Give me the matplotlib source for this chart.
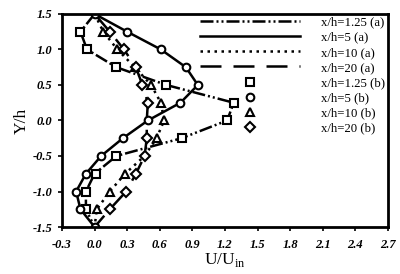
import matplotlib
matplotlib.use('Agg')
from matplotlib import pyplot as plt

# numerical profiles (a)
y_line = [1.5, 1.25, 1.0, 0.75, 0.5, 0.25, 0.0, -0.25, -0.5, -0.75, -1.0, -1.25, -1.5]
a_125 = [0.0, -0.13, -0.07, 0.2, 0.66, 1.28, 1.22, 0.8, 0.2, 0.0, -0.08, -0.08, 0.0]
a_5 = [0.0, 0.3, 0.61, 0.84, 0.95, 0.79, 0.49, 0.26, 0.06, -0.08, -0.17, -0.13, 0.0]
a_10 = [0.0, 0.08, 0.21, 0.37, 0.52, 0.61, 0.64, 0.57, 0.46, 0.28, 0.14, 0.02, 0.0]
a_20 = [0.0, 0.14, 0.27, 0.38, 0.44, 0.49, 0.48, 0.48, 0.46, 0.38, 0.29, 0.14, 0.0]

# experimental points (b)
sq_y = [1.25, 1.0, 0.75, 0.5, 0.25, 0.0, -0.25, -0.5, -0.75, -1.0, -1.25]
sq_x = [-0.13, -0.07, 0.2, 0.66, 1.28, 1.22, 0.8, 0.2, 0.01, -0.08, -0.08]
ci_y = [1.5, 1.25, 1.0, 0.75, 0.5, 0.25, 0.0, -0.25, -0.5, -0.75, -1.0, -1.25, -1.5]
ci_x = [0.0, 0.3, 0.61, 0.84, 0.95, 0.79, 0.49, 0.26, 0.06, -0.08, -0.17, -0.13, 0.0]
tr_y = [1.25, 1.0, 0.75, 0.5, 0.25, 0.0, -0.25, -0.75, -1.0, -1.25]
tr_x = [0.08, 0.21, 0.37, 0.52, 0.61, 0.64, 0.57, 0.28, 0.14, 0.02]
di_y = [1.25, 1.0, 0.75, 0.5, 0.25, -0.25, -0.5, -0.75, -1.0, -1.25]
di_x = [0.14, 0.27, 0.38, 0.44, 0.49, 0.48, 0.46, 0.38, 0.29, 0.14]

x_ticks = [-0.3, 0.0, 0.3, 0.6, 0.9, 1.2, 1.5, 1.8, 2.1, 2.4, 2.7]
y_ticks = [-1.5, -1.0, -0.5, 0.0, 0.5, 1.0, 1.5]

serif = 'Liberation Serif'

fig = plt.figure(figsize=(4, 2.74), dpi=100)
ax = fig.add_axes([0.155, 0.1715, 0.815, 0.7775])

lw = 1.8
ax.plot(a_125, y_line, color='k', lw=lw, dashes=(5.2, 1.2, 0.8, 1.2, 0.8, 1.2),
	label='x/h=1.25 (a)')
ax.plot(a_5, y_line, color='k', lw=lw, label='x/h=5 (a)')
ax.plot(a_10, y_line, color='k', lw=lw, dashes=(1, 1.8), label='x/h=10 (a)')
ax.plot(a_20, y_line, color='k', lw=lw, dashes=(8.4, 4.8), label='x/h=20 (a)')

mk = dict(ls='none', mfc='white', mec='k', mew=1.5, ms=5.5)
ax.plot(sq_x, sq_y, marker='s', label='x/h=1.25 (b)', **mk)
ax.plot(ci_x, ci_y, marker='o', label='x/h=5 (b)', **mk)
ax.plot(tr_x, tr_y, marker='^', label='x/h=10 (b)', **mk)
ax.plot(di_x, di_y, marker='D', label='x/h=20 (b)', **dict(mk, ms=5))

ax.set_xlim(-0.3, 2.7)
ax.set_ylim(-1.5, 1.5)
ax.set_xticks(x_ticks)
ax.set_yticks(y_ticks)
ax.set_xticklabels(['{:.1f}'.format(v) for v in x_ticks])
ax.set_yticklabels(['{:.1f}'.format(v) for v in y_ticks])
for lab in ax.get_xticklabels() + ax.get_yticklabels():
	lab.set_family(serif)
	lab.set_weight('bold')
	lab.set_style('italic')
	lab.set_fontsize(9)
ax.tick_params(direction='out', length=3, width=1.2, pad=4)
ax.tick_params(axis='x', pad=5.5)
for s in ax.spines.values():
	s.set_linewidth(2)

ax.set_xlabel('U/U$_{\\mathregular{in}}$', family=serif, fontsize=12.5, labelpad=0)
ax.set_ylabel('Y/h', family=serif, fontsize=12.5, labelpad=2)

ax.legend(loc='upper right', frameon=False, prop={'family': serif, 'size': 9.2},
	handlelength=7.83, handletextpad=1.67, labelspacing=0.245, numpoints=1,
	borderaxespad=0, borderpad=0.2, bbox_to_anchor=(1.0, 1.0))

fig.savefig('out.png', dpi=100)
